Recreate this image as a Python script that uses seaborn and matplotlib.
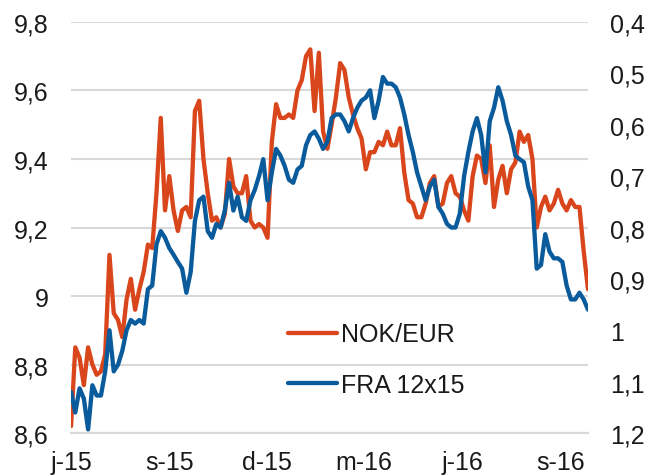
import numpy as np
import pandas as pd
import matplotlib
matplotlib.use("Agg")
import matplotlib.pyplot as plt
from matplotlib.ticker import FuncFormatter, FixedLocator
import seaborn as sns

# ---- data (sampled every 4 days, Jun 2015 - Sep 2016) ----
start_date = "2015-06-01"
step_days = 4

nok_eur = [
    8.62, 8.85, 8.82, 8.74, 8.85, 8.80, 8.77, 8.78, 8.83, 9.12,
    8.95, 8.93, 8.88, 8.99, 9.05, 8.96, 9.02, 9.07, 9.15, 9.14,
    9.30, 9.52, 9.25, 9.35, 9.25, 9.19, 9.25, 9.26, 9.23, 9.54,
    9.57, 9.40, 9.30, 9.22, 9.23, 9.20, 9.24, 9.40, 9.32, 9.30,
    9.30, 9.35, 9.22, 9.20, 9.21, 9.20, 9.17, 9.45, 9.56, 9.52,
    9.52, 9.53, 9.52, 9.60, 9.63, 9.70, 9.72, 9.54, 9.71, 9.48,
    9.43, 9.50, 9.58, 9.68, 9.66, 9.58, 9.53, 9.49, 9.46, 9.37,
    9.42, 9.42, 9.45, 9.44, 9.48, 9.44, 9.44, 9.49, 9.36, 9.28,
    9.27, 9.23, 9.23, 9.27, 9.33, 9.35, 9.26, 9.27, 9.33, 9.35,
    9.30, 9.29, 9.25, 9.22, 9.35, 9.41, 9.40, 9.33, 9.44, 9.26,
    9.34, 9.38, 9.30, 9.37, 9.39, 9.48, 9.45, 9.47, 9.40, 9.20,
    9.26, 9.29, 9.25, 9.27, 9.31, 9.27, 9.25, 9.28, 9.26, 9.26,
    9.13, 9.02,
]

fra_12x15 = [
    1.120, 1.160, 1.113, 1.133, 1.193, 1.107, 1.127, 1.127, 1.080, 1.000,
    1.080, 1.067, 1.040, 1.000, 0.980, 0.987, 0.980, 0.987, 0.920, 0.913,
    0.833, 0.807, 0.820, 0.840, 0.853, 0.867, 0.880, 0.927, 0.887, 0.787,
    0.747, 0.740, 0.807, 0.820, 0.793, 0.800, 0.767, 0.713, 0.767, 0.740,
    0.780, 0.787, 0.747, 0.727, 0.700, 0.667, 0.747, 0.693, 0.647, 0.660,
    0.680, 0.707, 0.713, 0.687, 0.680, 0.640, 0.620, 0.613, 0.627, 0.647,
    0.633, 0.587, 0.580, 0.580, 0.593, 0.613, 0.587, 0.567, 0.553, 0.547,
    0.533, 0.587, 0.553, 0.507, 0.520, 0.520, 0.527, 0.547, 0.580, 0.620,
    0.653, 0.693, 0.720, 0.747, 0.720, 0.707, 0.760, 0.773, 0.793, 0.800,
    0.800, 0.773, 0.700, 0.653, 0.613, 0.587, 0.620, 0.693, 0.593, 0.567,
    0.527, 0.553, 0.593, 0.620, 0.660, 0.667, 0.673, 0.720, 0.747, 0.880,
    0.873, 0.813, 0.847, 0.860, 0.860, 0.867, 0.913, 0.940, 0.940, 0.927,
    0.940, 0.960,
]

tick_dates = ["2015-06-01", "2015-09-01", "2015-12-01",
              "2016-03-01", "2016-06-01", "2016-09-01"]
tick_labels = ["j-15", "s-15", "d-15", "m-16", "j-16", "s-16"]
left_ticks = [8.6, 8.8, 9.0, 9.2, 9.4, 9.6, 9.8]
right_ticks = [0.4, 0.5, 0.6, 0.7, 0.8, 0.9, 1.0, 1.1, 1.2]

dates = pd.date_range(start_date, periods=len(nok_eur), freq=f"{step_days}D")
df = pd.DataFrame({"date": dates, "NOK/EUR": nok_eur, "FRA 12x15": fra_12x15})

# ---- style ----
sns.set_style("white")
plt.rcParams["font.family"] = ["Liberation Sans", "DejaVu Sans"]

ORANGE = "#D9461C"
BLUE = "#0A5B9C"
GRID = "#D9D9D9"
TXT = "#1a1a1a"
FS = 18

fig = plt.figure(figsize=(6.48, 4.77), dpi=100)
ax = fig.add_axes([0.1096, 0.0901, 0.7978, 0.8617])
ax2 = ax.twinx()

sns.lineplot(data=df, x="date", y="NOK/EUR", ax=ax, color=ORANGE, lw=3.1,
             label="NOK/EUR", legend=False)
sns.lineplot(data=df, x="date", y="FRA 12x15", ax=ax2, color=BLUE, lw=3.1,
             label="FRA 12x15", legend=False)

ax.set_ylim(8.6, 9.8)
ax2.set_ylim(1.2, 0.4)
ax.set_xlim(dates[0], dates[-1])

def comma(v, pos=None):
    s = f"{v:.1f}".rstrip("0").rstrip(".")
    return s.replace(".", ",")

ax.yaxis.set_major_locator(FixedLocator(left_ticks))
ax.yaxis.set_major_formatter(FuncFormatter(comma))
ax2.yaxis.set_major_locator(FixedLocator(right_ticks))
ax2.yaxis.set_major_formatter(FuncFormatter(comma))

ax.set_xticks(pd.to_datetime(tick_dates))
ax.set_xticklabels(tick_labels)

ax.grid(axis="y", color=GRID, lw=1.5)
ax.grid(axis="x", visible=False)
ax2.grid(False)
ax.set_axisbelow(True)

for a in (ax, ax2):
    for s in ("top", "left", "right"):
        a.spines[s].set_visible(False)
    a.spines["bottom"].set_color(GRID)
    a.spines["bottom"].set_linewidth(1.5)
    a.set_xlabel("")
    a.set_ylabel("")

ax.tick_params(axis="y", length=0, pad=16, labelsize=FS, labelcolor=TXT)
ax2.tick_params(axis="y", length=0, pad=16, labelsize=FS, labelcolor=TXT)
ax.tick_params(axis="x", length=6, width=1.5, color=GRID, pad=6,
               labelsize=FS, labelcolor=TXT)

h1, l1 = ax.get_legend_handles_labels()
h2, l2 = ax2.get_legend_handles_labels()
leg = ax2.legend(h1 + h2, l1 + l2, loc="center left",
                 bbox_to_anchor=(0.42, 0.178), frameon=False,
                 fontsize=FS, handlelength=1.95, handletextpad=0.15,
                 labelspacing=1.07, borderpad=0, borderaxespad=0)
for t in leg.get_texts():
    t.set_color(TXT)

fig.savefig("out.png", dpi=100)
